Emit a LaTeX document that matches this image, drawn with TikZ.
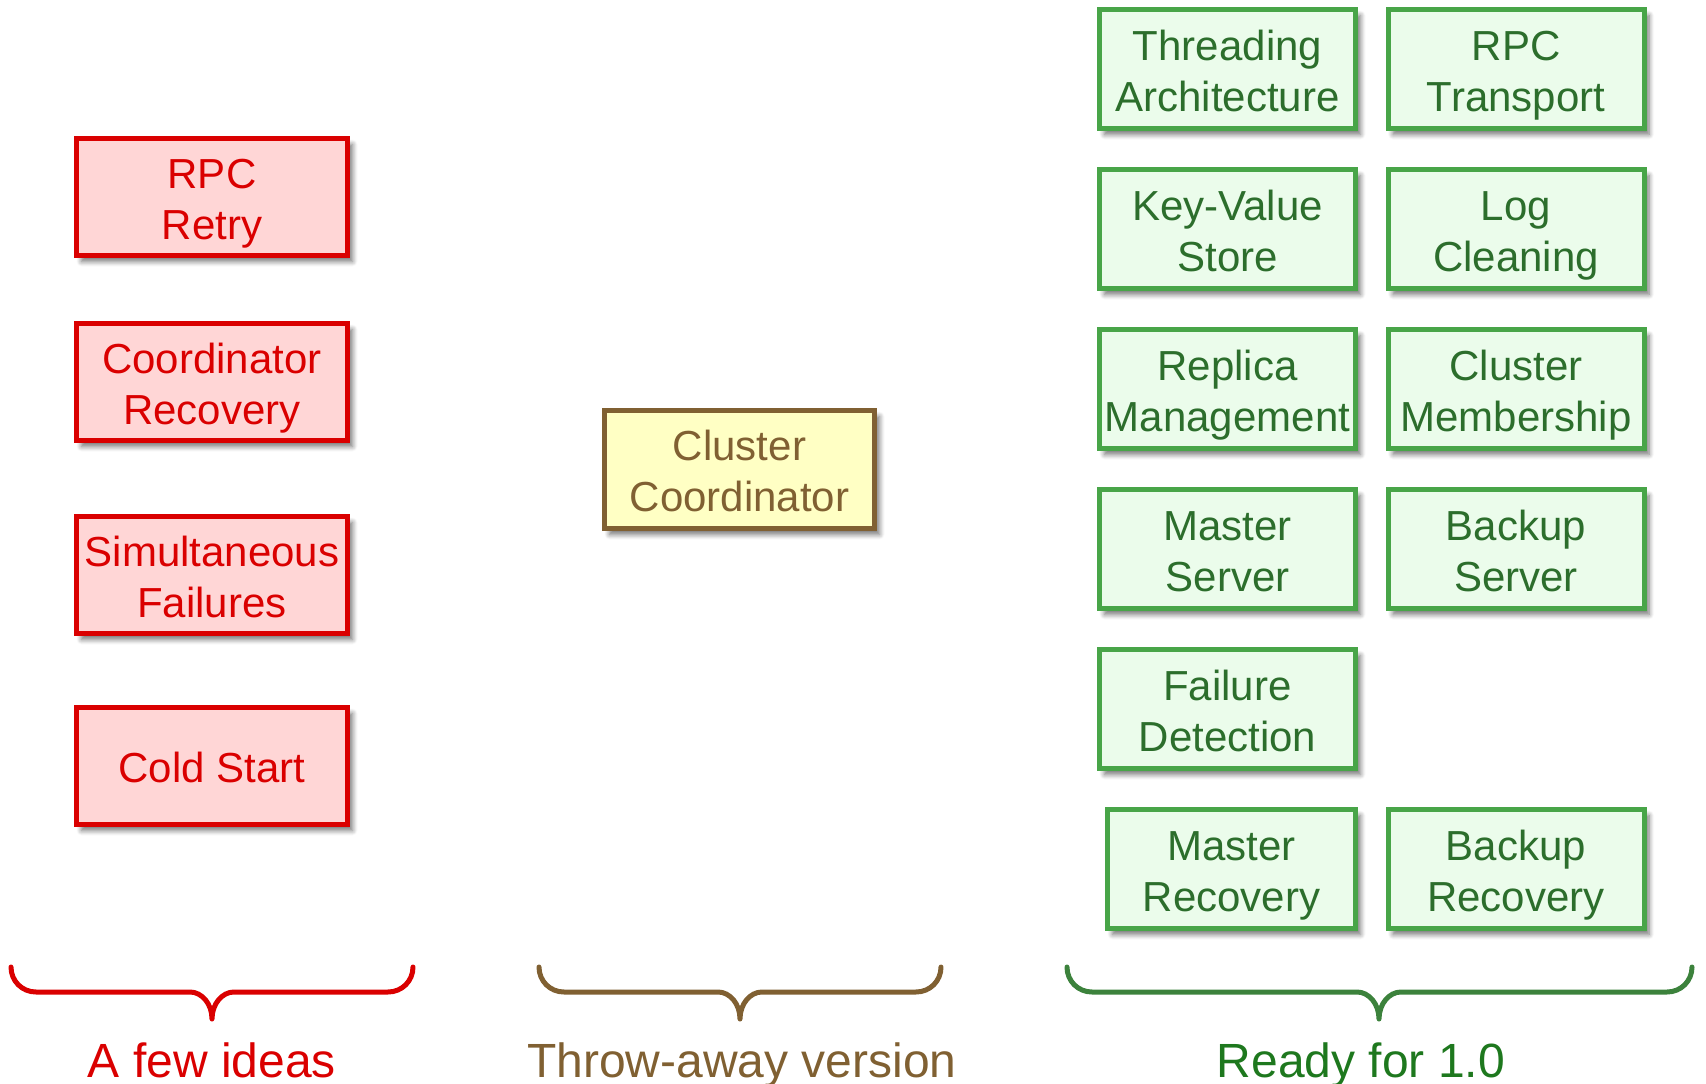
\documentclass[tikz,border=0pt]{standalone}
\usepackage{fontspec}
\setmainfont{Liberation Sans}
\usetikzlibrary{shadows.blur}

\definecolor{ideaLine}{RGB}{218,0,0}
\definecolor{ideaFill}{RGB}{255,214,214}
\definecolor{protoLine}{RGB}{128,96,50}
\definecolor{protoFill}{RGB}{255,255,196}
\definecolor{readyLine}{RGB}{72,165,72}
\definecolor{readyFill}{RGB}{235,252,235}
\definecolor{readyText}{RGB}{44,110,44}
\definecolor{readyBrace}{RGB}{60,130,60}
\definecolor{readyLabel}{RGB}{30,120,30}

% fixed-height lines so every box places its text the same way
\newcommand{\lstrut}{\rule[-9pt]{0pt}{51pt}}
\newcommand{\two}[2]{\lstrut #1\\\lstrut #2}

\tikzset{
  box/.style={rectangle, line width=5pt, inner sep=0pt, align=center,
    font=\fontsize{42}{51}\selectfont,
    blur shadow={shadow xshift=5pt, shadow yshift=-6pt,
      shadow blur radius=5pt, shadow blur steps=6, shadow opacity=55}},
  idea/.style={box, draw=ideaLine, fill=ideaFill, text=ideaLine,
    minimum width=271pt, minimum height=117pt},
  proto/.style={box, draw=protoLine, fill=protoFill, text=protoLine,
    minimum width=270pt, minimum height=118pt},
  ready/.style={box, draw=readyLine, fill=readyFill, text=readyText,
    minimum width=256pt, minimum height=119pt},
  bracepath/.style={line width=5pt, line cap=round, line join=round},
  grouplabel/.style={anchor=base, inner sep=0pt, font=\fontsize{48}{56}\selectfont},
}

% underbrace from x=#1 to x=#2 with its point at x=#3
\newcommand{\groupbrace}[4]{%
  \draw[bracepath, #4]
    (#1,967) .. controls (#1,981) and ({#1+11},992) .. ({#1+25},992)
    -- ({#3-22},992) .. controls ({#3-10},992) and (#3,1004) .. (#3,1019)
    .. controls (#3,1004) and ({#3+10},992) .. ({#3+22},992)
    -- ({#2-25},992) .. controls ({#2-11},992) and (#2,981) .. (#2,967);
}

\begin{document}
\begin{tikzpicture}[x=1pt, y=-1pt]
  \useasboundingbox (0,0) rectangle (1706,1084);

  % early ideas
  \node[idea] (rpcretry)  at (212,197) {\two{RPC}{Retry}};
  \node[idea] (coordrec)  at (212,382) {\two{Coordinator}{Recovery}};
  \node[idea] (simfail)   at (212,575) {\two{Simultaneous}{Failures}};
  \node[idea] (coldstart) at (212,766) {\lstrut Cold Start};

  % prototype
  \node[proto] (clustercoord) at (739.5,469.5) {\two{Cluster}{Coordinator}};

  % finished components
  \node[ready] (threading)  at (1227.5,69)  {\two{Threading}{Architecture}};
  \node[ready] (rpctrans)   at (1516,69)    {\two{RPC}{Transport}};
  \node[ready] (kvstore)    at (1227.5,229) {\two{Key-Value}{Store}};
  \node[ready] (logclean)   at (1516,229)   {\two{Log}{Cleaning}};
  \node[ready] (replica)    at (1227.5,389) {\two{Replica}{Management}};
  \node[ready] (membership) at (1516,389)   {\two{Cluster}{Membership}};
  \node[ready] (masterserv) at (1227.5,549) {\two{Master}{Server}};
  \node[ready] (backupserv) at (1516,549)   {\two{Backup}{Server}};
  \node[ready] (faildetect) at (1227.5,709) {\two{Failure}{Detection}};
  \node[ready, minimum width=248pt] (masterrec) at (1231.5,869) {\two{Master}{Recovery}};
  \node[ready] (backuprec)  at (1516,869)   {\two{Backup}{Recovery}};

  % group braces and captions
  \groupbrace{11}{413}{212}{ideaLine}
  \groupbrace{539}{941}{740}{protoLine}
  \groupbrace{1067}{1692}{1379}{readyBrace}

  \node[grouplabel, text=ideaLine]   (ideaslabel) at (212,1077)  {A few ideas};
  \node[grouplabel, text=protoLine]  (protolabel) at (742,1077)  {Throw-away version};
  \node[grouplabel, text=readyLabel] (readylabel) at (1361,1077) {Ready for 1.0};
\end{tikzpicture}
\end{document}
